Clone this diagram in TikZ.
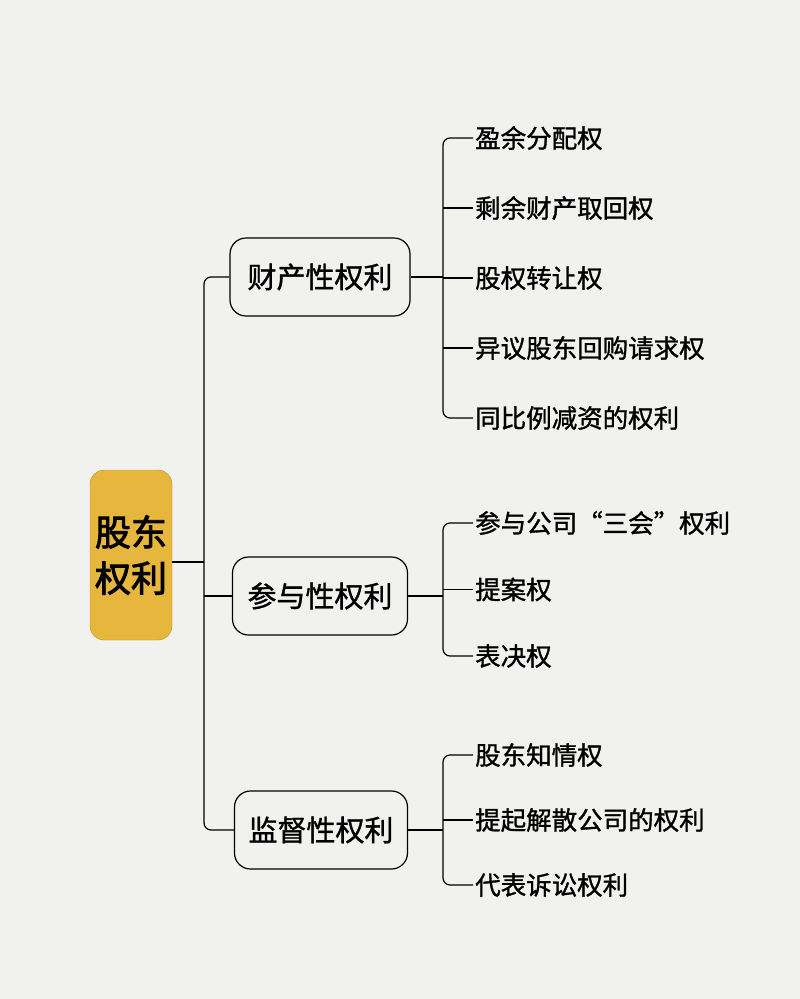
\documentclass[tikz,border=0pt]{standalone}
\usepackage{fontspec}
\setmainfont{Noto Sans CJK SC}[FakeBold=1.2]
\newfontfamily\rootfont{Noto Sans CJK SC}[FakeBold=2.5]
\definecolor{paper}{HTML}{F1F1EF}
\definecolor{gold}{HTML}{E6B73C}
\tikzset{
  rootbox/.style={draw=gold!80!black,fill=gold,rounded corners=14pt,minimum width=82pt,minimum height=170pt,inner sep=2pt,align=center,font=\rootfont\fontsize{36}{46}\selectfont},
  midbox/.style={draw=black,line width=1.2pt,rounded corners=16pt,minimum height=78pt,font=\fontsize{29}{32}\selectfont,inner xsep=10pt},
  leaf/.style={anchor=west,font=\fontsize{25.5}{28}\selectfont,inner sep=2pt},
  link/.style={line width=1.2pt,rounded corners=7pt}
}
\begin{document}
\begin{tikzpicture}[x=1pt,y=-1pt]
  \fill[paper] (0,0) rectangle (800,999);
  \useasboundingbox (0,0) rectangle (800,999);
  % root and groups
  \node[rootbox] (root) at (131,555) {股东\\权利};
  \node[midbox,minimum width=180pt] (prop) at (320,277) {财产性权利};
  \node[midbox,minimum width=175pt] (part) at (320,596) {参与性权利};
  \node[midbox,minimum width=173pt] (sup) at (321,830) {监督性权利};
  \coordinate (hub) at (204,562);
  \draw[link] (root.east |- hub) -- (hub);
  \draw[link] (prop.west) -| (hub) |- (sup.west);
  \draw[link] (hub |- part.west) -- (part.west);
  % leaves
  \foreach \t [count=\i] in {盈余分配权,剩余财产取回权,股权转让权,异议股东回购请求权,同比例减资的权利}
    \node[leaf] (p\i) at (473,{138+70*(\i-1)}) {\t};
  \foreach \t [count=\i] in {参与公司“三会”权利,提案权,表决权}
    \node[leaf] (q\i) at (473,{523+66.5*(\i-1)}) {\t};
  \foreach \t [count=\i] in {股东知情权,提起解散公司的权利,代表诉讼权利}
    \node[leaf] (s\i) at (473,{755+65*(\i-1)}) {\t};
  % brackets
  \coordinate (bx) at (443,0);
  \draw[link] (p1.west) -| (bx |- prop.east) |- (p5.west);
  \draw[link] (q1.west) -| (bx |- part.east) |- (q3.west);
  \draw[link] (s1.west) -| (bx |- sup.east) |- (s3.west);
  \draw[link] (prop.east) -- (bx |- prop.east);
  \draw[link] (part.east) -- (bx |- part.east);
  \draw[link] (sup.east) -- (bx |- sup.east);
  \foreach \i in {2,...,4} \draw[link] (bx |- p\i.west) -- (p\i.west);
  \draw[link] (bx |- q2.west) -- (q2.west);
  \draw[link] (bx |- s2.west) -- (s2.west);
\end{tikzpicture}
\end{document}
